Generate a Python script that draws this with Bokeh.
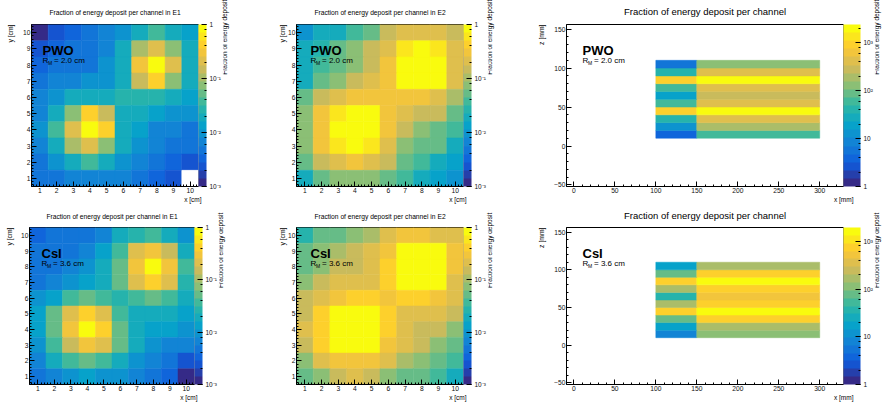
import math
import numpy as np
from bokeh.plotting import figure
from bokeh.models import (LogColorMapper, ColorBar, LogTicker, FixedTicker, Label, Title,
                          LinearAxis, CustomJSTickFormatter, Range1d, ColumnDataSource)
from bokeh.layouts import column, row
from bokeh.embed import file_html
from bokeh.resources import INLINE
from bokeh.transform import transform

FONT = "Liberation Sans"

# ---------------- data ----------------
channels = [1, 2, 3, 4, 5, 6, 7, 8, 9, 10]      # channel index along x and y [cm]
row_order = [10, 9, 8, 7, 6, 5, 4, 3, 2, 1]     # rows below are listed top -> bottom
nan = float("nan")

pwo_e1 = [
    [0.0014, 0.0025, 0.0032, 0.0040, 0.0065, 0.0098, 0.022, 0.032, 0.022, 0.013],
    [0.0028, 0.0032, 0.0040, 0.0049, 0.0079, 0.016, 0.11, 0.25, 0.089, 0.022],
    [0.0032, 0.0040, 0.0046, 0.0056, 0.011, 0.022, 0.35, 0.98, 0.25, 0.022],
    [0.0040, 0.0069, 0.0079, 0.0091, 0.011, 0.022, 0.13, 0.41, 0.089, 0.018],
    [0.0079, 0.0098, 0.018, 0.022, 0.022, 0.026, 0.026, 0.026, 0.018, 0.013],
    [0.0079, 0.018, 0.089, 0.41, 0.15, 0.022, 0.018, 0.014, 0.011, 0.0098],
    [0.0098, 0.032, 0.25, 0.98, 0.41, 0.022, 0.013, 0.0079, 0.0069, 0.0056],
    [0.0079, 0.022, 0.11, 0.25, 0.089, 0.022, 0.011, 0.0069, 0.0049, 0.0040],
    [0.0056, 0.0098, 0.022, 0.032, 0.022, 0.011, 0.0079, 0.0046, 0.0035, 0.0023],
    [0.0046, 0.0056, 0.0079, 0.0079, 0.0079, 0.0065, 0.0056, 0.0035, 0.0023, nan],
]
pwo_e2 = [
    [0.011, 0.016, 0.022, 0.036, 0.063, 0.15, 0.25, 0.25, 0.25, 0.15],
    [0.016, 0.026, 0.045, 0.072, 0.13, 0.25, 0.62, 0.95, 0.62, 0.25],
    [0.018, 0.032, 0.063, 0.089, 0.15, 0.35, 0.95, 0.95, 0.95, 0.25],
    [0.022, 0.055, 0.089, 0.13, 0.20, 0.35, 0.95, 0.95, 0.95, 0.18],
    [0.055, 0.15, 0.25, 0.35, 0.35, 0.29, 0.35, 0.35, 0.25, 0.11],
    [0.089, 0.29, 0.62, 0.95, 0.95, 0.35, 0.18, 0.15, 0.13, 0.063],
    [0.089, 0.29, 0.95, 0.95, 0.95, 0.35, 0.13, 0.089, 0.063, 0.032],
    [0.089, 0.29, 0.62, 0.95, 0.62, 0.25, 0.089, 0.063, 0.045, 0.022],
    [0.063, 0.13, 0.25, 0.35, 0.25, 0.13, 0.055, 0.036, 0.018, 0.014],
    [0.022, 0.045, 0.089, 0.089, 0.089, 0.063, 0.032, 0.022, 0.014, 0.011],
]
csi_e1 = [
    [0.0032, 0.0040, 0.0046, 0.0056, 0.0079, 0.016, 0.026, 0.032, 0.022, 0.011],
    [0.0040, 0.0046, 0.0056, 0.0079, 0.013, 0.032, 0.18, 0.29, 0.13, 0.022],
    [0.0040, 0.0056, 0.0079, 0.0098, 0.018, 0.063, 0.35, 0.95, 0.35, 0.032],
    [0.0046, 0.0079, 0.0091, 0.013, 0.018, 0.045, 0.18, 0.41, 0.18, 0.026],
    [0.0098, 0.013, 0.032, 0.045, 0.032, 0.026, 0.032, 0.063, 0.032, 0.016],
    [0.013, 0.045, 0.18, 0.41, 0.18, 0.036, 0.022, 0.022, 0.016, 0.013],
    [0.013, 0.045, 0.35, 0.95, 0.41, 0.055, 0.018, 0.014, 0.013, 0.0098],
    [0.011, 0.032, 0.13, 0.35, 0.18, 0.045, 0.016, 0.011, 0.0079, 0.0065],
    [0.0079, 0.016, 0.032, 0.045, 0.032, 0.016, 0.0098, 0.0069, 0.0049, 0.0028],
    [0.0056, 0.0079, 0.011, 0.013, 0.011, 0.0098, 0.0069, 0.0046, 0.0032, 0.0014],
]
csi_e2 = [
    [0.026, 0.045, 0.063, 0.089, 0.11, 0.18, 0.29, 0.29, 0.22, 0.18],
    [0.045, 0.072, 0.11, 0.13, 0.18, 0.29, 0.95, 0.95, 0.95, 0.29],
    [0.055, 0.089, 0.13, 0.15, 0.22, 0.41, 0.95, 0.95, 0.95, 0.29],
    [0.072, 0.13, 0.18, 0.22, 0.25, 0.41, 0.95, 0.95, 0.95, 0.25],
    [0.13, 0.20, 0.35, 0.44, 0.44, 0.35, 0.41, 0.41, 0.35, 0.18],
    [0.15, 0.41, 0.95, 0.95, 0.95, 0.41, 0.25, 0.25, 0.22, 0.13],
    [0.18, 0.41, 0.95, 0.95, 0.95, 0.41, 0.22, 0.15, 0.15, 0.089],
    [0.15, 0.41, 0.95, 0.95, 0.95, 0.35, 0.20, 0.13, 0.089, 0.045],
    [0.089, 0.20, 0.35, 0.35, 0.35, 0.20, 0.11, 0.089, 0.063, 0.032],
    [0.055, 0.089, 0.13, 0.18, 0.13, 0.089, 0.055, 0.045, 0.036, 0.022],
]

# longitudinal view: 10 layers in z, front part x 100-150 mm, back part x 150-300 mm
layer_edges = [10, 20, 30, 40, 50, 60, 70, 80, 90, 100, 110]   # z [mm]
front_edges = [100, 150]                                        # x [mm]
back_edges = [150, 300]                                         # x [mm]
pwo_front = [4.0, 15, 39, 870, 72, 18, 72, 870, 39, 5.0]        # layers bottom -> top
pwo_back = [49, 200, 500, 2300, 500, 270, 500, 2300, 500, 125]
csi_front = [8.4, 16.5, 94, 725, 138, 44, 138, 725, 94, 16.5]
csi_back = [110, 200, 630, 1900, 630, 430, 630, 1900, 630, 200]
pwo_scale_max = 2400
csi_scale_max = 1950

title_e1 = "Fraction of energy deposit per channel in E1"
title_e2 = "Fraction of energy deposit per channel in E2"
title_long = "Fraction of energy deposit per channel"
cb_title = "Fraction of energy deposit"
pwo_rm = "=  2.0 cm"
csi_rm = "=  3.6 cm"


# ---------------- style helpers ----------------
def bird_palette(n):
    stops = [0.0, 0.125, 0.25, 0.375, 0.5, 0.625, 0.75, 0.875, 1.0]
    red = [0.2082, 0.0592, 0.0780, 0.0232, 0.1802, 0.5301, 0.8186, 0.9956, 0.9764]
    green = [0.1664, 0.3599, 0.5041, 0.6419, 0.7178, 0.7492, 0.7328, 0.7862, 0.9832]
    blue = [0.5293, 0.8684, 0.8385, 0.7914, 0.6425, 0.4662, 0.3499, 0.1968, 0.0539]
    t = np.linspace(0, 1, n)
    r = np.interp(t, stops, red)
    g = np.interp(t, stops, green)
    b = np.interp(t, stops, blue)
    return ["#%02x%02x%02x" % (int(round(a * 255)), int(round(c * 255)), int(round(d * 255)))
            for a, c, d in zip(r, g, b)]


PAL = bird_palette(20)

SUP_JS = """
const e = Math.round(Math.log10(tick));
if (e === 0) return "1";
if (e === 1) return "10";
const m = {"-": "\u207b", "0": "\u2070", "1": "\u00b9", "2": "\u00b2", "3": "\u00b3",
           "4": "\u2074", "5": "\u2075", "6": "\u2076", "7": "\u2077", "8": "\u2078", "9": "\u2079"};
return "10" + String(e).split("").map(c => m[c]).join("");
"""

NBSP = "\u00a0"


def lab(p, x, y, text, size, bold=False, baseline="alphabetic"):
    p.add_layout(Label(x=x, y=y, x_units="screen", y_units="screen", text=text,
                       text_font=FONT, text_font_size=size,
                       text_font_style="bold" if bold else "normal",
                       text_align="left", text_baseline=baseline, text_color="black"))


def add_title(p, text, size, side, align="center", valign="middle", standoff=0, offset=0):
    p.add_layout(Title(text=text, align=align, vertical_align=valign, standoff=standoff,
                       offset=offset, text_font=FONT, text_font_size=size,
                       text_font_style="normal", text_color="black"), side)


def base_fig(fw, fh, left, right, top, bottom, xr, yr):
    p = figure(frame_width=fw, frame_height=fh, min_border_left=left, min_border_right=right,
               min_border_top=top, min_border_bottom=bottom, x_range=xr, y_range=yr,
               output_backend="svg", toolbar_location=None, tools="", title=None)
    p.grid.visible = False
    p.outline_line_color = "black"
    p.outline_line_width = 1
    p.background_fill_color = "white"
    p.border_fill_color = "white"
    for ax in (p.xaxis[0], p.yaxis[0]):
        ax.axis_line_color = "black"
        ax.major_tick_line_color = "black"
        ax.minor_tick_line_color = "black"
        ax.major_tick_in = 5
        ax.major_tick_out = 0
        ax.minor_tick_in = 2
        ax.minor_tick_out = 0
        ax.major_label_text_font = FONT
        ax.major_label_text_font_size = "6.7px"
        ax.major_label_text_color = "#111111"
        ax.major_label_standoff = 1
    return p


def add_colorbar(p, mapper, cbw, npad):
    cb = ColorBar(color_mapper=mapper, width=cbw, padding=0, margin=0, location=(0, 0),
                  ticker=LogTicker(), formatter=CustomJSTickFormatter(code=SUP_JS),
                  label_standoff=3, major_label_text_font=FONT,
                  major_label_text_font_size="6.5px", major_label_text_color="#111111",
                  major_tick_line_color="black", major_tick_in=5,
                  minor_tick_line_color="black", minor_tick_in=2,
                  bar_line_color=None, border_line_color=None)
    p.add_layout(cb, "right")
    # colour-bar title, pushed towards the top end of the bar (ROOT style)
    ax = LinearAxis(axis_label=NBSP * npad + cb_title, ticker=FixedTicker(ticks=[]),
                    major_label_text_font_size="0px", axis_line_color=None,
                    major_tick_line_color=None, minor_tick_line_color=None,
                    major_tick_in=0, major_tick_out=0, minor_tick_in=0, minor_tick_out=0,
                    major_label_standoff=0, axis_label_standoff=1,
                    axis_label_text_font=FONT, axis_label_text_font_size="6.5px",
                    axis_label_text_font_style="normal", axis_label_text_color="black",
                    axis_label_orientation=math.pi / 2)
    p.add_layout(ax, "right")


def add_material(p, fh, dx, material, rm):
    lab(p, dx, fh - 26, material, "13px", bold=True)
    lab(p, dx, fh - 36, "R", "8px")
    lab(p, dx + 5.6, fh - 38, "M", "5px")
    lab(p, dx + 11.5, fh - 36, rm, "8px")


def heat_panel(data, title, material, rm, fw, fh, left, right, top, bottom,
               mat_dx, title_standoff, ylab_valign, ylab_standoff, npad):
    mapper = LogColorMapper(palette=PAL, low=1e-3, high=1.0, nan_color="white",
                            low_color=PAL[0], high_color=PAL[-1])
    xs, ys, vs = [], [], []
    for i, yv in enumerate(row_order):
        for j, xv in enumerate(channels):
            xs.append(xv)
            ys.append(yv)
            vs.append(data[i][j])
    src = ColumnDataSource(dict(x=xs, y=ys, v=np.array(vs, dtype=float)))
    p = base_fig(fw, fh, left, right, top, bottom, Range1d(0.5, 10.5), Range1d(0.5, 10.5))
    p.rect(x="x", y="y", width=1, height=1, source=src,
           fill_color=transform("v", mapper), line_color=transform("v", mapper), line_width=0.5)
    minor = [round(c + d, 1) for c in [0] + channels for d in (0.2, 0.4, 0.6, 0.8)
             if 0.5 <= c + d <= 10.5]
    for ax in (p.xaxis[0], p.yaxis[0]):
        ax.ticker = FixedTicker(ticks=channels, minor_ticks=minor)
    add_colorbar(p, mapper, 8, npad)
    add_title(p, title, "6.7px", "above", valign="top", standoff=title_standoff)
    add_title(p, "y [cm]", "6.8px", "left", align="right", valign=ylab_valign,
              standoff=ylab_standoff)
    add_title(p, "x [cm]", "6.5px", "below", align="right", valign="top", offset=-3)
    add_material(p, fh, mat_dx, material, rm)
    return p


def long_panel(front, back, vmax, material, rm, fw, fh, left, right, top, bottom,
               title_standoff, npad):
    mapper = LogColorMapper(palette=PAL, low=1, high=vmax, low_color=PAL[0], high_color=PAL[-1])
    xs, ws, ys, hs, vs = [], [], [], [], []
    for k in range(len(front)):
        zc = (layer_edges[k] + layer_edges[k + 1]) / 2
        zh = layer_edges[k + 1] - layer_edges[k]
        for edges, vals in ((front_edges, front), (back_edges, back)):
            xs.append((edges[0] + edges[1]) / 2)
            ws.append(edges[1] - edges[0])
            ys.append(zc)
            hs.append(zh)
            vs.append(vals[k])
    src = ColumnDataSource(dict(x=xs, w=ws, y=ys, h=hs, v=vs))
    p = base_fig(fw, fh, left, right, top, bottom, Range1d(-9, 329), Range1d(-52, 156))
    p.rect(x="x", y="y", width="w", height="h", source=src,
           fill_color=transform("v", mapper), line_color=transform("v", mapper), line_width=0.5)
    p.xaxis[0].ticker = FixedTicker(ticks=[0, 50, 100, 150, 200, 250, 300],
                                    minor_ticks=list(range(0, 330, 10)))
    p.yaxis[0].ticker = FixedTicker(ticks=[-50, 0, 50, 100, 150],
                                    minor_ticks=list(range(-50, 160, 10)))
    add_colorbar(p, mapper, 17, npad)
    add_title(p, title_long, "9.5px", "above", valign="top", standoff=title_standoff)
    add_title(p, "z [mm]", "6.8px", "left", align="right", valign="top", standoff=10)
    add_title(p, "x [mm]", "6.5px", "below", align="right", valign="top", offset=-10)
    add_material(p, fh, 16, material, rm)
    return p


# ---------------- layout ----------------
f1 = heat_panel(pwo_e1, title_e1, "PWO", pwo_rm, 167, 162, 31, 67, 24, 19, 11, 14, "top", 10, 17)
f2 = heat_panel(pwo_e2, title_e2, "PWO", pwo_rm, 167, 162, 31, 57, 24, 19, 14, 14, "bottom", 0, 17)
f3 = long_panel(pwo_front, pwo_back, pwo_scale_max, "PWO", pwo_rm, 277, 162, 46, 45, 24, 19, 11, 17)

f4 = heat_panel(csi_e1, title_e1, "CsI", csi_rm, 165, 157, 29, 71, 22, 19, 12, 12, "top", 8, 10)
f5 = heat_panel(csi_e2, title_e2, "CsI", csi_rm, 167, 157, 31, 57, 22, 19, 14, 12, "bottom", 0, 10)
f6 = long_panel(csi_front, csi_back, csi_scale_max, "CsI", csi_rm, 277, 157, 46, 45, 22, 19, 9, 10)

layout = column(row(f1, f2, f3), row(f4, f5, f6))

with open("out.html", "w") as fh_out:
    fh_out.write(file_html(layout, INLINE))
